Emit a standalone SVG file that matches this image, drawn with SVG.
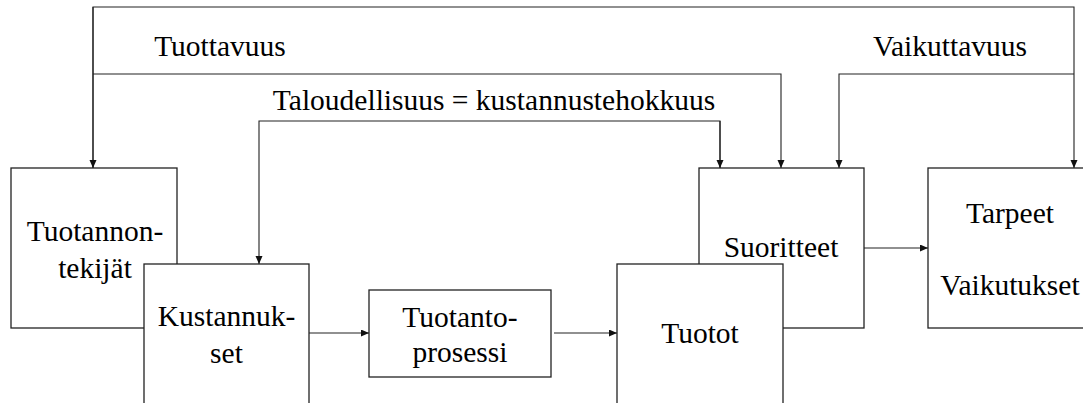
<svg xmlns="http://www.w3.org/2000/svg" width="1083" height="403" viewBox="0 0 1083 403">
<style>
.box{fill:#fff;stroke:#222;stroke-width:1.3}
.ln{fill:none;stroke:#222;stroke-width:1.1}
text{font-family:"Liberation Serif","Times New Roman",serif;font-size:29.5px;fill:#000;text-anchor:middle}
</style>
<defs>
<marker id="ah" markerWidth="8" markerHeight="8" refX="8" refY="3.5" orient="auto" markerUnits="userSpaceOnUse">
<path d="M0,0 L8,3.5 L0,7 Z" fill="#111"/>
</marker>
</defs>
<rect width="1083" height="403" fill="#fff"/>
<g id="connectors">
<path class="ln" d="M93,168 V7 H1074 V168" marker-end="url(#ah)"/>
<path class="ln" d="M93,7 V168" marker-end="url(#ah)"/>
<path class="ln" d="M93,74 H781 V168" marker-end="url(#ah)"/>
<path class="ln" d="M1074,74 H839 V168" marker-end="url(#ah)"/>
<path class="ln" d="M720,168 V121 H259 V264" marker-end="url(#ah)"/>
<path class="ln" d="M720,121 V168" marker-end="url(#ah)"/>
<path class="ln" d="M309,333 H369" marker-end="url(#ah)"/>
<path class="ln" d="M554,333 H617" marker-end="url(#ah)"/>
<path class="ln" d="M864,248 H928" marker-end="url(#ah)"/>
</g>
<g id="labels">
<text x="220" y="56">Tuottavuus</text>
<text x="950" y="56">Vaikuttavuus</text>
<text x="494" y="110">Taloudellisuus = kustannustehokkuus</text>
</g>
<g id="tuotannontekijat">
<rect class="box" x="11" y="168" width="166" height="160"/>
<text x="95" y="241">Tuotannon-</text>
<text x="95" y="278">tekijät</text>
</g>
<g id="suoritteet">
<rect class="box" x="699" y="168" width="165" height="160"/>
<text x="781" y="257">Suoritteet</text>
</g>
<g id="tarpeet">
<rect class="box" x="928" y="168" width="170" height="160"/>
<text x="1010" y="223">Tarpeet</text>
<text x="1010" y="295">Vaikutukset</text>
</g>
<g id="kustannukset">
<rect class="box" x="144" y="264" width="165" height="160"/>
<text x="226.5" y="326">Kustannuk-</text>
<text x="226.5" y="363">set</text>
</g>
<g id="tuotantoprosessi">
<rect class="box" x="369" y="290" width="182" height="87"/>
<text x="460" y="327">Tuotanto-</text>
<text x="460" y="362">prosessi</text>
</g>
<g id="tuotot">
<rect class="box" x="617" y="264" width="166" height="160"/>
<text x="700" y="343">Tuotot</text>
</g>
</svg>
